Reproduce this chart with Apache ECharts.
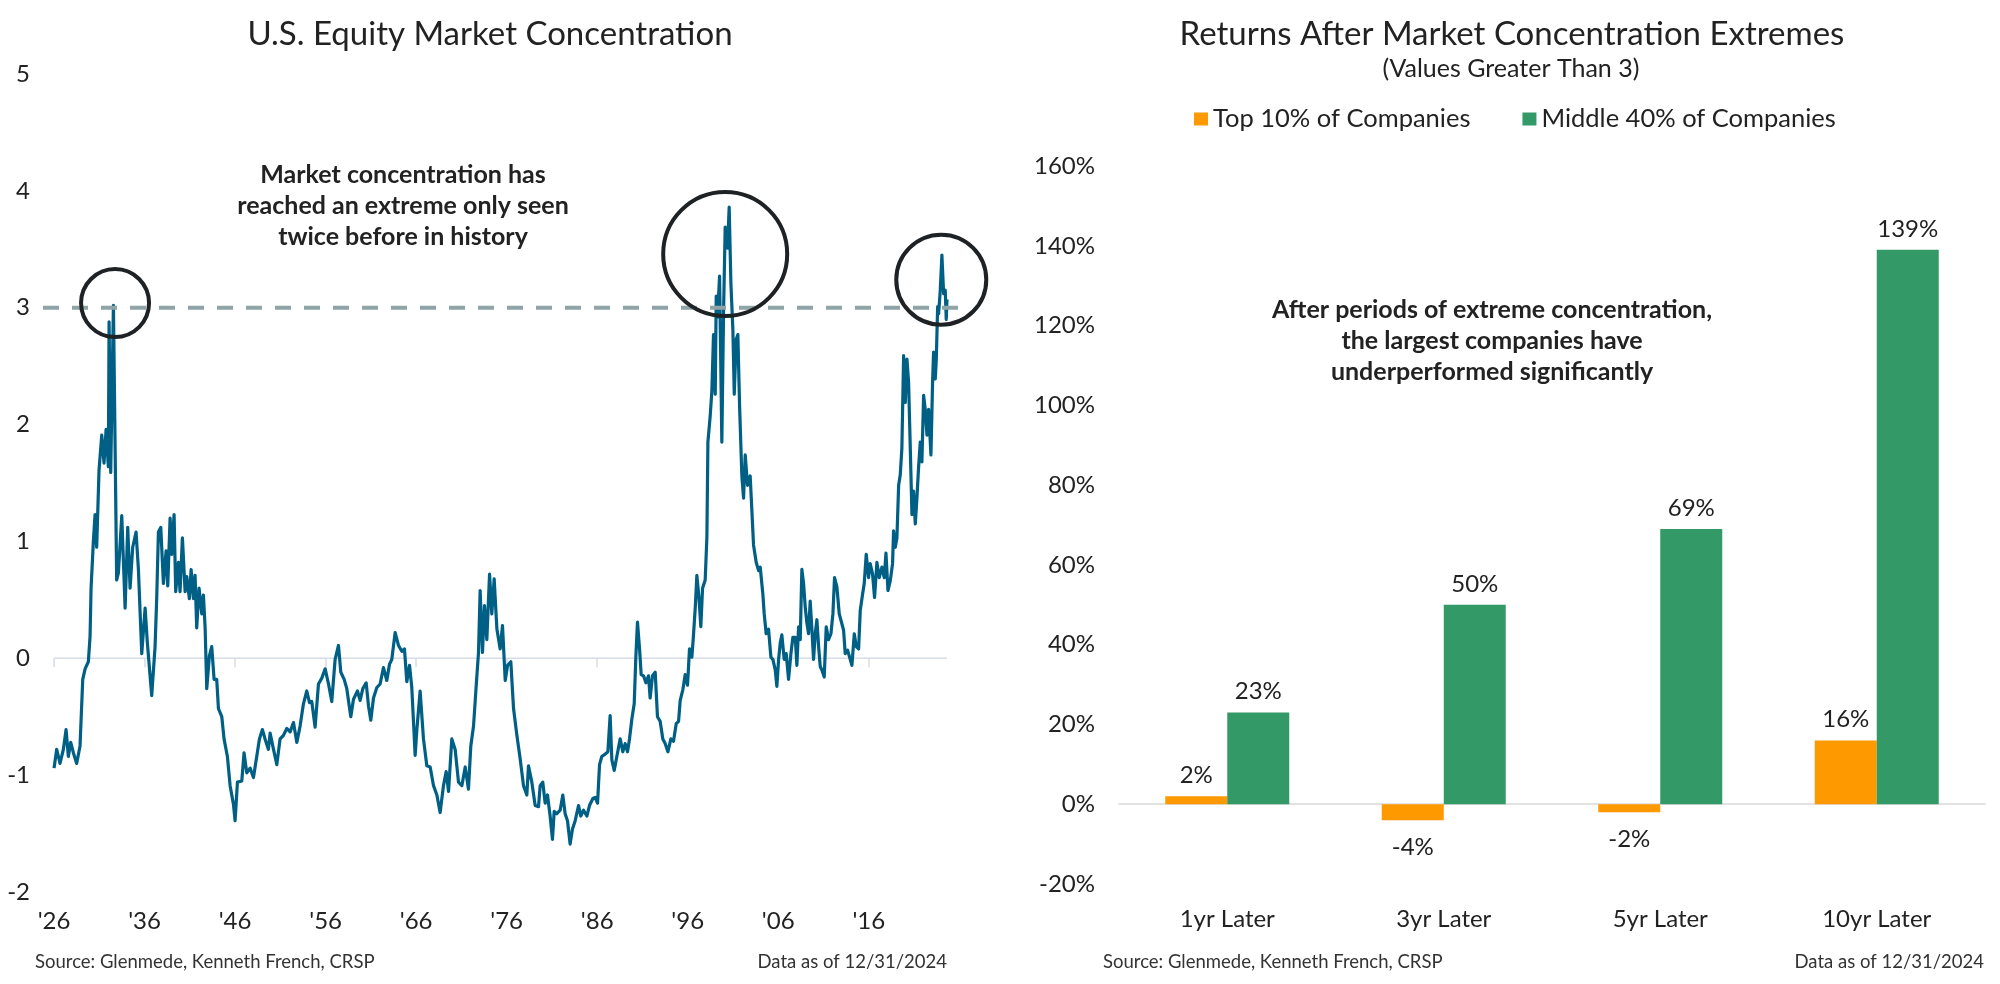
<!DOCTYPE html>
<html>
<head>
<meta charset="utf-8">
<script src="https://cdn.jsdelivr.net/npm/echarts@6/dist/echarts.min.js"></script>
<style>
html,body{margin:0;padding:0;background:#ffffff;}
#chart{width:2000px;height:984px;}
</style>
</head>
<body>
<div id="chart"></div>
<script>
// ---------- Left chart: U.S. equity market concentration ----------
const era1Years = [
  1926.00,1926.29,1926.66,1927.03,1927.33,1927.58,1927.84,1928.14,1928.50,1928.87,
  1929.17,1929.43,1929.79,1929.98,1930.09,1930.35,1930.53,1930.71,1930.97,1931.27,
  1931.52,1931.75,1932.00,1932.08,1932.26,1932.56,1932.74,1932.92,1933.11,1933.48,
  1933.85,1934.14,1934.40,1934.69,1935.06,1935.32,1935.69,1936.06,1936.31,1936.79,
  1937.16,1937.34,1937.53,1937.79,1938.08,1938.38,1938.56,1938.82,1939.00,1939.26,
  1939.44,1939.74,1939.92,1940.18,1940.48,1940.66,1940.95,1941.14,1941.40,1941.58,
  1941.76,1942.02,1942.32,1942.50,1942.69,1942.87,1943.16,1943.42,1943.68,1943.97,
  1944.16,1944.53,1944.78,1945.15,1945.45,1945.82,1946.00,1946.26,1946.74,1946.99,
  1947.29,1947.66,1948.03,1948.39,1948.69,1949.02,1949.31,1949.68
];
const era1Values = [
  -0.94,-0.78,-0.90,-0.78,-0.61,-0.84,-0.72,-0.81,-0.90,-0.75,
  -0.18,-0.09,-0.03,0.19,0.60,1.01,1.23,0.95,1.61,1.91,
  1.67,1.96,1.64,2.88,1.59,3.02,3.02,0.67,0.73,1.22,
  0.43,1.12,0.60,0.95,1.08,0.76,0.04,0.43,0.13,-0.32,
  0.10,0.51,1.08,1.12,0.64,0.92,0.62,1.20,0.89,1.23,
  0.57,0.82,0.57,1.03,0.57,0.70,0.51,0.76,0.51,0.71,
  0.26,0.60,0.38,0.54,0.26,-0.26,0.02,0.10,-0.18,-0.18,
  -0.43,-0.50,-0.69,-0.84,-1.09,-1.25,-1.39,-1.06,-1.05,-0.81,
  -0.98,-0.94,-1.02,-0.84,-0.69,-0.61,-0.69,-0.78
];
const era2Years = [
  1949.87,1950.16,1950.61,1950.97,1951.34,1951.71,1952.08,1952.45,1952.82,1953.18,
  1953.55,1953.92,1954.22,1954.47,1954.84,1955.21,1955.58,1955.95,1956.32,1956.68,
  1957.05,1957.42,1957.68,1958.05,1958.34,1958.78,1959.08,1959.52,1959.81,1960.11,
  1960.48,1960.74,1960.99,1961.29,1961.66,1962.02,1962.39,1962.76,1963.06,1963.31,
  1963.68,1964.05,1964.42,1964.71,1964.97,1965.27,1965.52,1965.89,1966.08,1966.44,
  1966.81,1967.18,1967.55,1967.92,1968.29,1968.65,1969.02,1969.32,1969.58,1969.94,
  1970.31,1970.68,1971.05,1971.42,1971.78,1972.04,1972.34,1972.63,1972.89,1973.07,
  1973.33,1973.55,1973.81,1974.11,1974.36,1974.62,1974.92,1975.28,1975.54,1975.84,
  1976.10,1976.46,1976.76,1977.13,1977.49,1977.86,1978.23,1978.41,1978.78,1979.15,
  1979.52
];
const era2Values = [
  -0.64,-0.75,-0.91,-0.69,-0.66,-0.60,-0.63,-0.55,-0.72,-0.58,
  -0.39,-0.28,-0.38,-0.37,-0.59,-0.22,-0.17,-0.09,-0.22,-0.37,
  -0.01,0.11,-0.12,-0.18,-0.26,-0.50,-0.35,-0.28,-0.36,-0.26,
  -0.21,-0.41,-0.53,-0.34,-0.25,-0.22,-0.08,-0.19,-0.05,-0.01,
  0.22,0.11,0.06,0.08,-0.20,-0.06,-0.25,-0.83,-0.61,-0.28,
  -0.69,-0.92,-0.93,-1.09,-1.17,-1.32,-1.09,-0.97,-1.14,-0.69,
  -0.78,-1.06,-1.09,-0.93,-1.12,-0.75,-0.58,-0.24,0.05,0.58,
  0.05,0.45,0.16,0.72,0.38,0.68,0.25,0.08,0.28,-0.19,
  -0.06,-0.03,-0.43,-0.66,-0.86,-1.09,-1.17,-0.92,-1.06,-1.26,
  -1.27
];
const era3Years = [
  1979.70,1979.99,1980.25,1980.51,1980.80,1981.06,1981.25,1981.54,1981.91,1982.20,
  1982.46,1982.72,1983.01,1983.27,1983.57,1983.94,1984.19,1984.49,1984.86,1985.15,
  1985.52,1985.78,1986.04,1986.26,1986.51,1986.88,1987.18,1987.43,1987.62,1987.88,
  1988.17,1988.54,1988.83,1989.09,1989.35,1989.57,1989.83,1990.09,1990.27,1990.45,
  1990.68,1990.86,1991.12,1991.38,1991.67,1991.85,1992.11,1992.41,1992.66,1992.96,
  1993.25,1993.51,1993.81,1994.14,1994.43,1994.73,1994.99,1995.17,1995.46,1995.72,
  1995.98,1996.20,1996.46,1996.64,1996.83,1997.01,1997.23,1997.45,1997.64,1997.93,
  1998.12,1998.23,1998.48,1998.67,1998.85,1999.04,1999.15,1999.29,1999.52,1999.77,
  1999.96,2000.14,2000.40,2000.58,2000.77,2000.99,2001.14,2001.36,2001.54,2001.73,
  2001.98,2002.17,2002.35,2002.61,2002.90,2003.09,2003.27,2003.57,2003.83
];
const era3Values = [
  -1.09,-1.06,-1.24,-1.17,-1.35,-1.55,-1.31,-1.33,-1.30,-1.17,
  -1.33,-1.39,-1.59,-1.46,-1.39,-1.26,-1.35,-1.30,-1.35,-1.26,
  -1.20,-1.19,-1.24,-0.91,-0.84,-0.82,-0.80,-0.49,-0.87,-0.96,
  -0.84,-0.69,-0.80,-0.73,-0.80,-0.69,-0.52,-0.39,0.01,0.31,
  0.08,-0.14,-0.15,-0.21,-0.15,-0.34,-0.15,-0.12,-0.50,-0.54,
  -0.69,-0.73,-0.80,-0.69,-0.71,-0.56,-0.54,-0.36,-0.27,-0.14,
  -0.23,0.08,0.01,0.20,0.43,0.71,0.53,0.27,0.60,0.67,
  1.04,1.85,2.07,2.29,2.77,2.26,3.10,2.92,3.27,1.85,
  2.96,3.69,3.51,3.86,3.21,2.81,2.26,2.73,2.77,2.16,
  1.56,1.37,1.74,1.48,1.56,1.26,0.97,0.82,0.75
];
const era4Years = [
  2004.01,2004.30,2004.45,2004.67,2004.93,2005.19,2005.41,2005.67,2005.85,2006.04,
  2006.22,2006.40,2006.66,2006.88,2007.14,2007.40,2007.62,2007.88,2008.06,2008.25,
  2008.43,2008.61,2008.80,2008.98,2009.17,2009.35,2009.53,2009.72,2009.90,2010.09,
  2010.27,2010.46,2010.64,2010.82,2011.08,2011.30,2011.56,2011.82,2012.04,2012.22,
  2012.48,2012.74,2012.96,2013.22,2013.40,2013.66,2013.88,2014.14,2014.40,2014.62,
  2014.88,2015.06,2015.32,2015.50,2015.72,2015.98,2016.16,2016.42,2016.64,2016.90,
  2017.16,2017.45,2017.71,2017.90,2018.12,2018.37,2018.63,2018.74,2018.93,2019.11,
  2019.30,2019.48,2019.66,2019.85,2020.03,2020.22,2020.40,2020.58,2020.77,2020.95,
  2021.14,2021.32,2021.50,2021.69,2021.87,2022.06,2022.24,2022.43,2022.61,2022.87,
  2023.05,2023.16,2023.35,2023.46,2023.61,2023.72,2023.90,2024.08,2024.27,2024.45,
  2024.56,2024.64
];
const era4Values = [
  0.78,0.55,0.38,0.21,0.25,0.01,-0.01,-0.10,-0.24,-0.01,
  0.13,0.20,-0.01,0.04,-0.18,0.04,0.18,0.18,-0.06,0.27,
  0.16,0.76,0.64,0.44,0.30,0.21,0.49,0.25,-0.01,0.21,
  0.33,0.10,-0.07,-0.10,-0.16,0.27,0.16,0.21,0.38,0.69,
  0.61,0.38,0.38,0.24,0.04,0.07,0.01,-0.06,0.21,0.10,
  0.08,0.41,0.55,0.64,0.89,0.69,0.81,0.72,0.52,0.82,
  0.69,0.78,0.69,0.90,0.58,0.66,0.81,1.09,0.95,1.03,
  1.48,1.57,1.80,2.59,2.19,2.56,2.36,1.82,1.23,1.43,
  1.15,1.37,1.63,1.85,1.68,2.25,2.13,1.91,2.13,1.74,
  2.36,2.62,2.39,2.56,3.01,2.95,3.15,3.45,3.12,3.15,
  2.90,3.07
];
const thresholdValue = 3;
const tickYears = [1926,1936,1946,1956,1966,1976,1986,1996,2006,2016];
const tickLabels = ["'26","'36","'46","'56","'66","'76","'86","'96","'06","'16"];

// ---------- Right chart: returns after concentration extremes ----------
const barCategories = ['1yr Later','3yr Later','5yr Later','10yr Later'];
const top10Returns = [2,-4,-2,16];
const middle40Returns = [23,50,69,139];
const seriesNames = ['Top 10% of Companies','Middle 40% of Companies'];

// ---------- build ----------
const lineYears = era1Years.concat(era2Years, era3Years, era4Years);
const lineValues = era1Values.concat(era2Values, era3Values, era4Values);
const lineData = lineYears.map((y, i) => [y, lineValues[i]]);
const firstYear = lineYears[0];
const lastYear = lineYears[lineYears.length - 1];

const FONT = 'Lato';
const TXT = '#222222';
const AXIS_LEFT = '#D5DDE6';
const AXIS_RIGHT = '#D9D9D9';

// the dashed reference line reaches a little past the data on both sides
const X_MIN = 1924.78, X_MAX = 2026.3;

function barItems(arr) {
  return arr.map(v => ({
    value: v,
    label: v < 0 ? { position: 'bottom', distance: 15 } : { position: 'top', distance: 9 }
  }));
}

const chart = echarts.init(document.getElementById('chart'), null, { renderer: 'canvas' });
chart.setOption({
  animation: false,
  backgroundColor: '#ffffff',
  textStyle: { fontFamily: FONT, color: TXT },
  grid: [
    { left: 43, right: 1038, top: 74, bottom: 92, containLabel: false, outerBoundsMode: 'none' },
    { left: 1119, right: 15, top: 166, bottom: 100, containLabel: false, outerBoundsMode: 'none' }
  ],
  legend: {
    data: seriesNames,
    left: 1189, top: 101,
    icon: 'rect', itemWidth: 14, itemHeight: 13, itemGap: 52,
    textStyle: { fontFamily: FONT, fontSize: 25.5, color: TXT }
  },
  xAxis: [
    { // labels at the bottom
      type: 'value', gridIndex: 0, position: 'bottom', min: X_MIN, max: X_MAX,
      axisLine: { show: false, onZero: false },
      axisTick: { show: false },
      axisLabel: {
        customValues: tickYears,
        formatter: v => { const i = tickYears.indexOf(Math.round(v)); return i >= 0 ? tickLabels[i] : ''; },
        margin: 17, fontSize: 24, color: TXT, fontFamily: FONT
      },
      splitLine: { show: false }
    },
    { // ticks on the zero line
      type: 'value', gridIndex: 0, position: 'bottom', min: X_MIN, max: X_MAX,
      axisLine: { show: true, onZero: true, lineStyle: { color: AXIS_LEFT, opacity: 0 } },
      axisTick: { show: true, length: 9, customValues: tickYears, lineStyle: { color: AXIS_LEFT, width: 1.5 } },
      axisLabel: { show: false },
      splitLine: { show: false }
    },
    { // category labels at the bottom
      type: 'category', gridIndex: 1, position: 'bottom', data: barCategories,
      axisLine: { show: false, onZero: false },
      axisTick: { show: false },
      axisLabel: { margin: 23, fontSize: 24, color: TXT, fontFamily: FONT },
      splitLine: { show: false }
    },
    { // zero line
      type: 'category', gridIndex: 1, position: 'bottom', data: barCategories,
      axisLine: { show: true, onZero: true, lineStyle: { color: AXIS_RIGHT, width: 1.5 } },
      axisTick: { show: false },
      axisLabel: { show: false },
      splitLine: { show: false }
    }
  ],
  yAxis: [
    {
      type: 'value', gridIndex: 0, min: -2, max: 5, interval: 1,
      axisLine: { show: false }, axisTick: { show: false }, splitLine: { show: false },
      axisLabel: { fontSize: 24, color: TXT, margin: 13, fontFamily: FONT }
    },
    {
      type: 'value', gridIndex: 1, min: -20, max: 160, interval: 20,
      axisLine: { show: false }, axisTick: { show: false }, splitLine: { show: false },
      axisLabel: { fontSize: 24, color: TXT, margin: 24, fontFamily: FONT, formatter: '{value}%' }
    }
  ],
  series: [
    {
      name: 'Zero', type: 'line', xAxisIndex: 0, yAxisIndex: 0, z: 1, silent: true,
      data: [[firstYear, 0], [lastYear, 0]], symbol: 'none',
      lineStyle: { color: AXIS_LEFT, width: 1.5 }
    },
    {
      name: 'Market Concentration', type: 'line', xAxisIndex: 0, yAxisIndex: 0,
      data: lineData, symbol: 'none', showSymbol: false, z: 3,
      lineStyle: { color: '#005F85', width: 3.2, join: 'round' },
      markPoint: {
        silent: true, symbol: 'circle', z: 6,
        label: { show: false },
        itemStyle: { color: 'rgba(0,0,0,0)', borderColor: '#1E2225', borderWidth: 4 },
        data: [
          { coord: [1932.74, 3.04], symbolSize: 68 },
          { coord: [2000.14, 3.46], symbolSize: 124 },
          { coord: [2024.01, 3.24], symbolSize: 90 }
        ]
      }
    },
    {
      name: 'Threshold', type: 'line', xAxisIndex: 0, yAxisIndex: 0,
      data: [[X_MIN, thresholdValue], [X_MAX, thresholdValue]],
      clip: false, symbol: 'none', z: 4, silent: true,
      lineStyle: { color: '#8EA4A6', width: 4, type: [16, 13] }
    },
    {
      name: seriesNames[0], type: 'bar', xAxisIndex: 2, yAxisIndex: 1,
      data: barItems(top10Returns), barWidth: 62, barGap: '0%',
      itemStyle: { color: '#FF9900' },
      label: { show: true, formatter: '{c}%', fontSize: 24, color: TXT, fontFamily: FONT }
    },
    {
      name: seriesNames[1], type: 'bar', xAxisIndex: 2, yAxisIndex: 1,
      data: barItems(middle40Returns), barWidth: 62, barGap: '0%',
      itemStyle: { color: '#339966' },
      label: { show: true, formatter: '{c}%', fontSize: 24, color: TXT, fontFamily: FONT }
    }
  ],
  graphic: [
    { type: 'text', x: 490, y: 34, style: { text: 'U.S. Equity Market Concentration', fontFamily: FONT, fontSize: 33, fill: TXT, align: 'center', verticalAlign: 'middle' } },
    { type: 'text', x: 403, y: 206, style: { text: 'Market concentration has\nreached an extreme only seen\ntwice before in history', fontFamily: FONT, fontSize: 25, fontWeight: 'bold', lineHeight: 31, fill: TXT, align: 'center', verticalAlign: 'middle' } },
    { type: 'text', x: 35, y: 962, style: { text: 'Source: Glenmede, Kenneth French, CRSP', fontFamily: FONT, fontSize: 18.5, fill: '#333333', align: 'left', verticalAlign: 'middle' } },
    { type: 'text', x: 947, y: 962, style: { text: 'Data as of 12/31/2024', fontFamily: FONT, fontSize: 18.5, fill: '#333333', align: 'right', verticalAlign: 'middle' } },
    { type: 'text', x: 1512, y: 34, style: { text: 'Returns After Market Concentration Extremes', fontFamily: FONT, fontSize: 33, fill: TXT, align: 'center', verticalAlign: 'middle' } },
    { type: 'text', x: 1511, y: 69, style: { text: '(Values Greater Than 3)', fontFamily: FONT, fontSize: 25, fill: TXT, align: 'center', verticalAlign: 'middle' } },
    { type: 'text', x: 1492, y: 341, style: { text: 'After periods of extreme concentration,\nthe largest companies have\nunderperformed significantly', fontFamily: FONT, fontSize: 25, fontWeight: 'bold', lineHeight: 31, fill: TXT, align: 'center', verticalAlign: 'middle' } },
    { type: 'text', x: 1103, y: 962, style: { text: 'Source: Glenmede, Kenneth French, CRSP', fontFamily: FONT, fontSize: 18.5, fill: '#333333', align: 'left', verticalAlign: 'middle' } },
    { type: 'text', x: 1984, y: 962, style: { text: 'Data as of 12/31/2024', fontFamily: FONT, fontSize: 18.5, fill: '#333333', align: 'right', verticalAlign: 'middle' } }
  ]
});
</script>
</body>
</html>
